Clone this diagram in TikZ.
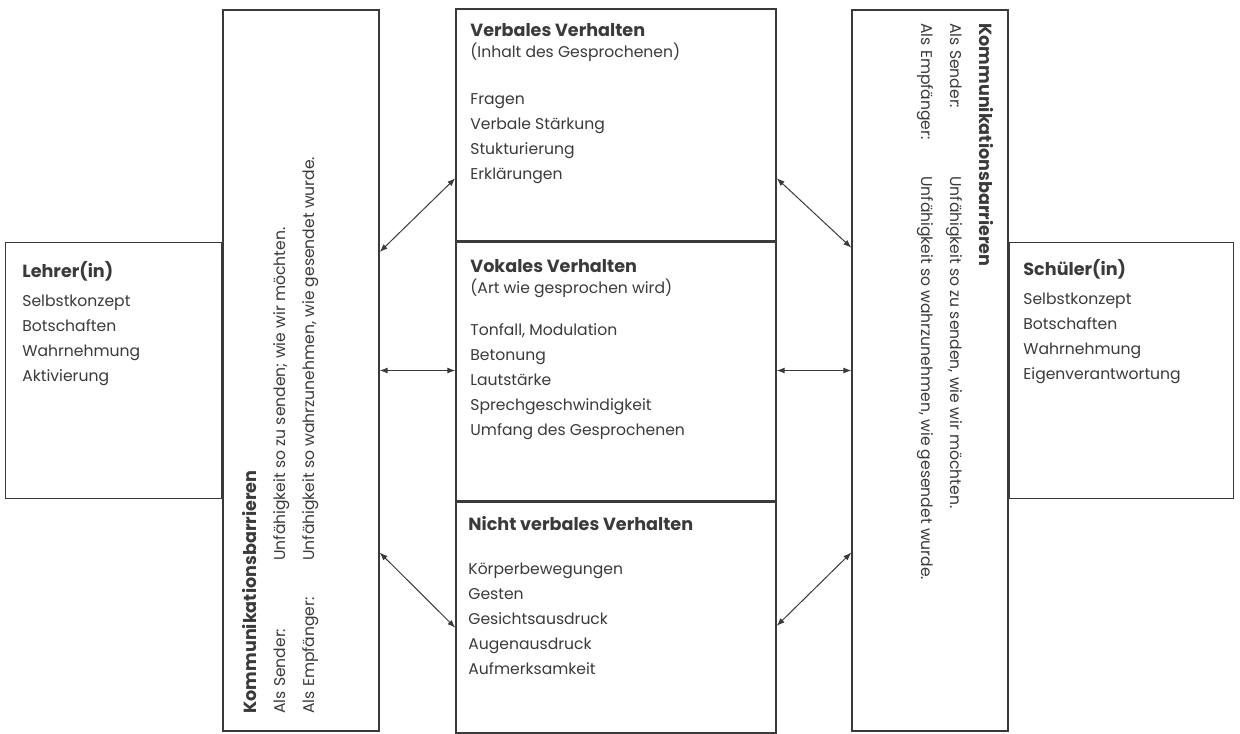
\documentclass[tikz,border=0pt]{standalone}
\usepackage{fontspec}
\setmainfont{Poppins}
\usepackage{xcolor}
\usepackage{tikz}
\usetikzlibrary{positioning}
\usetikzlibrary{calc,arrows.meta}

\definecolor{inkgray}{HTML}{3A3A3A}
\newcommand{\boxhead}[1]{{\fontsize{8.8}{12.5}\selectfont\bfseries #1}}

\begin{document}
\begin{tikzpicture}[x=0.5pt,y=-0.5pt]
    % Fix the size of the page
    \useasboundingbox (0,0) rectangle (1240,733);

    % Define the styles
    \tikzset{box/.style={draw=inkgray, line width=0.7pt, rectangle, inner sep=0pt}}
    \tikzset{boxtext/.style={anchor=north west, align=left, inner sep=0pt, text=inkgray,
        font=\fontsize{7.8}{12.5}\selectfont}}
    \tikzset{bartext/.style={boxtext, font=\fontsize{7.8}{14.5}\selectfont}}
    \tikzset{both arrow/.style={{Latex[length=4pt,width=3pt]}-{Latex[length=4pt,width=3pt]}, inkgray, line width=0.5pt}}

    % Draw the barrier boxes
    \node[box, minimum width=78pt, minimum height=360.5pt] (lbar) at (301,370.5) {};
    \node[box, minimum width=78pt, minimum height=360.5pt] (rbar) at (930,370.5) {};

    % Draw the teacher and pupil boxes
    \node[box, minimum width=108pt, minimum height=128pt, left=0pt of lbar] (lehrer) {};
    \node[box, minimum width=112pt, minimum height=128pt, right=0pt of rbar] (schueler) {};

    % Draw the three behaviour boxes
    \node[box, minimum width=160pt, minimum height=116pt] (verbal) at (616,125) {};
    \node[box, minimum width=160pt, minimum height=129pt, below=0pt of verbal] (vokal) {};
    \node[box, minimum width=160pt, minimum height=115.5pt, below=0pt of vokal] (nonverbal) {};

    % Write the texts
    \node[boxtext] (lehrertxt) at (22,261) {\boxhead{Lehrer(in)}\\[2pt]
        Selbstkonzept\\ Botschaften\\ Wahrnehmung\\ Aktivierung};
    \node[boxtext] (schuelertxt) at (1023,259) {\boxhead{Schüler(in)}\\[2pt]
        Selbstkonzept\\ Botschaften\\ Wahrnehmung\\ Eigenverantwortung};
    \node[boxtext] (verbaltxt) at (470,23) {\boxhead{Verbales Verhalten}\\[-2pt]
        (Inhalt des Gesprochenen)\\[11pt]
        Fragen\\ Verbale Stärkung\\ Stukturierung\\ Erklärungen};
    \node[boxtext] (vokaltxt) at (470,259) {\boxhead{Vokales Verhalten}\\[-2pt]
        (Art wie gesprochen wird)\\[8.5pt]
        Tonfall, Modulation\\ Betonung\\ Lautstärke\\ Sprechgeschwindigkeit\\ Umfang des Gesprochenen};
    \node[boxtext] (nonverbaltxt) at (468,516) {\boxhead{Nicht verbales Verhalten}\\[9.5pt]
        Körperbewegungen\\ Gesten\\ Gesichtsausdruck\\ Augenausdruck\\ Aufmerksamkeit};

    % Write the barrier texts, turned
    \node[bartext, rotate=90] (lbartxt) at (242,714) {\boxhead{Kommunikationsbarrieren}\\
        \makebox[76.5pt][l]{Als Sender:}Unfähigkeit so zu senden; wie wir möchten.\\
        \makebox[76.5pt][l]{Als Empfänger:}Unfähigkeit so wahrzunehmen, wie gesendet wurde.};
    \node[bartext, rotate=-90] (rbartxt) at (994,23) {\boxhead{Kommunikationsbarrieren}\\
        \makebox[76.5pt][l]{Als Sender:}Unfähigkeit so zu senden, wie wir möchten.\\
        \makebox[76.5pt][l]{Als Empfänger:}Unfähigkeit so wahrzunehmen, wie gesendet wurde.};

    % Draw the arrows on the left
    \draw[both arrow] ($(lbar.north east)!0.336!(lbar.south east)$) -- ($(verbal.north west)!0.728!(verbal.south west)$);
    \draw[both arrow] (lbar.east) -- (lbar.east -| vokal.west);
    \draw[both arrow] ($(lbar.north east)!0.752!(lbar.south east)$) -- ($(nonverbal.north west)!0.545!(nonverbal.south west)$);

    % Draw the arrows on the right
    \draw[both arrow] ($(verbal.north east)!0.728!(verbal.south east)$) -- ($(rbar.north west)!0.33!(rbar.south west)$);
    \draw[both arrow] (rbar.west -| vokal.east) -- (rbar.west);
    \draw[both arrow] ($(rbar.north west)!0.752!(rbar.south west)$) -- ($(nonverbal.north east)!0.537!(nonverbal.south east)$);
\end{tikzpicture}
\end{document}
